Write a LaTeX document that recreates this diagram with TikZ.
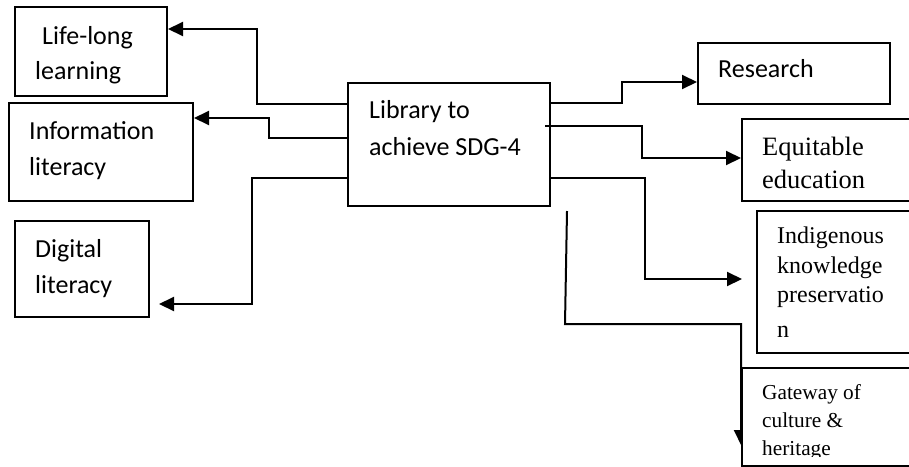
\documentclass[tikz,border=0pt]{standalone}
\usepackage{fontspec}
\setmainfont{Liberation Serif}
\newfontfamily\calfont{Carlito}
\usetikzlibrary{arrows.meta,backgrounds}
\begin{document}
\begin{tikzpicture}[x=1pt,y=-1pt,
  box/.style={draw, line width=2pt, inner sep=0pt, anchor=north west},
  lbl/.style={anchor=base west, inner sep=0pt},
  sanslbl/.style={lbl, font=\calfont\fontsize{26}{30}\selectfont},
  seriflbl/.style={lbl, font=\fontsize{26.5}{30}\selectfont},
  indlbl/.style={lbl, font=\fontsize{24}{28}\selectfont},
  gatelbl/.style={lbl, font=\fontsize{21.3}{26}\selectfont},
  conn/.style={line width=2pt, -{Triangle[length=15pt,width=14pt]}}
]
\clip (0,0) rectangle (909,466);
% boxes
\node[box, minimum width=152pt, minimum height=89pt] (life) at (14,6) {};
\node[box, minimum width=184pt, minimum height=98pt] (info) at (8,102) {};
\node[box, minimum width=134pt, minimum height=96pt] (digital) at (14,220) {};
\node[box, minimum width=202pt, minimum height=123pt] (main) at (347,82) {};
\node[box, minimum width=192pt, minimum height=61pt] (research) at (697,42) {};
\node[box, minimum width=189pt, minimum height=82pt] (equit) at (741,118) {};
\node[box, minimum width=174pt, minimum height=142pt] (indig) at (756,210) {};
\node[box, fill=white, minimum width=189pt, minimum height=98pt] (gateway) at (741,367) {};
% labels
\node[sanslbl] (t1) at (42,44) {Life-long};
\node[sanslbl] (t2) at (35,79) {learning};
\node[sanslbl] (t3) at (29,139) {Information};
\node[sanslbl] (t4) at (29,175) {literacy};
\node[sanslbl] (t5) at (35,257) {Digital};
\node[sanslbl] (t6) at (35,293) {literacy};
\node[sanslbl] (t7) at (369,118) {Library to};
\node[sanslbl] (t8) at (369,155) {achieve SDG-4};
\node[sanslbl] (t9) at (718,77) {Research};
\node[seriflbl] (t10) at (762,155) {Equitable};
\node[seriflbl] (t11) at (762,188) {education};
\node[indlbl] (t12) at (777,243) {Indigenous};
\node[indlbl] (t13) at (777,273) {knowledge};
\node[indlbl] (t14) at (777,302) {preservatio};
\node[indlbl] (t15) at (777,337) {n};
\begin{scope}
\clip (741,367) rectangle (930,456);
\node[gatelbl] (t16) at (762,399) {Gateway of};
\node[gatelbl] (t17) at (762,427) {culture \&};
\node[gatelbl] (t18) at (762,455) {heritage};
\end{scope}
% connectors
\begin{scope}[on background layer]
\coordinate (s5) at ([xshift=-6pt]main.east |- 0,126);
\coordinate (s7) at ([xshift=16pt]main.south east);
\draw[conn] (main.west |- 0,104) -- (257,104) -- (257,29) -- (life.east |- 0,29);
\draw[conn] (main.west |- 0,138) -- (269,138) -- (269,118) -- (info.east |- 0,118);
\draw[conn] (main.west |- 0,178) -- (252,178) -- (252,304) -- ([xshift=9pt]digital.east |- 0,304);
\draw[conn] (main.east |- 0,103) -- (622,103) -- (622,82) -- (research.west |- 0,82);
\draw[conn] (s5) -- (642,126) -- (642,158) -- (equit.west |- 0,158);
\draw[conn] (main.east |- 0,178) -- (645,178) -- (645,279) -- ([xshift=-14pt]indig.west |- 0,279);
\draw[conn] ([yshift=-4pt]s7) -- (565,324) -- (741,324) -- (gateway.west |- 0,445);
\end{scope}
\end{tikzpicture}
\end{document}
